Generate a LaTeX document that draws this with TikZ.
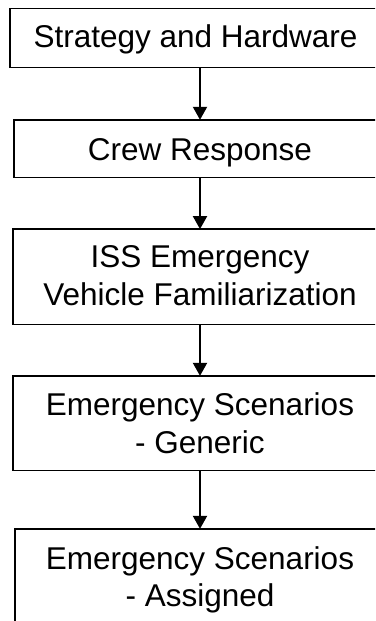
\documentclass[tikz,border=0pt]{standalone}
\usepackage{fontspec}
\setmainfont{Liberation Sans}
\usetikzlibrary{arrows.meta}
\newcommand{\boxtext}[2]{\raisebox{#1}[0pt][0pt]{\begin{tabular}[b]{@{}c@{}}#2\end{tabular}}}
\begin{document}
\begin{tikzpicture}[x=1pt,y=-1pt,
  stepbox/.style={inner sep=0pt,anchor=center,
    font=\fontsize{31.5}{37.5}\selectfont},
  boxline/.style={draw=black,line width=1.5pt},
  flow/.style={line width=2pt,-{Triangle[width=14pt,length=13pt]}}]
\useasboundingbox (0,0) rectangle (375,621);
\clip (0,0) rectangle (375,621);
\fill[white] (0,0) rectangle (375,621);
\node[stepbox,minimum width=380pt,minimum height=58.6pt] (s1) at (200,38)
  {\boxtext{-9.3pt}{Strategy and Hardware\kern9pt}};
\node[stepbox,minimum width=372pt,minimum height=57.3pt] (s2) at (200,148.65)
  {\boxtext{-12.05pt}{Crew Response}};
\node[stepbox,minimum width=374pt,minimum height=95pt] (s3) at (200,276.8)
  {\boxtext{-28.2pt}{ISS Emergency\\Vehicle Familiarization}};
\node[stepbox,minimum width=374pt,minimum height=94.3pt] (s4) at (200,423.2)
  {\boxtext{-29.8pt}{Emergency Scenarios\\- Generic}};
\node[stepbox,minimum width=370pt,minimum height=94.3pt] (s5) at (200,576.2)
  {\boxtext{-30.5pt}{Emergency Scenarios\\- Assigned}};
\foreach \n in {s1,s2,s3,s4,s5}
  \draw[boxline] (\n.south east) -- (\n.south west) -- (\n.north west) -- (\n.north east);
\draw[flow] (s1.south) -- (s2.north);
\draw[flow] (s2.south) -- (s3.north);
\draw[flow] (s3.south) -- (s4.north);
\draw[flow] (s4.south) -- (s5.north);
\end{tikzpicture}
\end{document}
